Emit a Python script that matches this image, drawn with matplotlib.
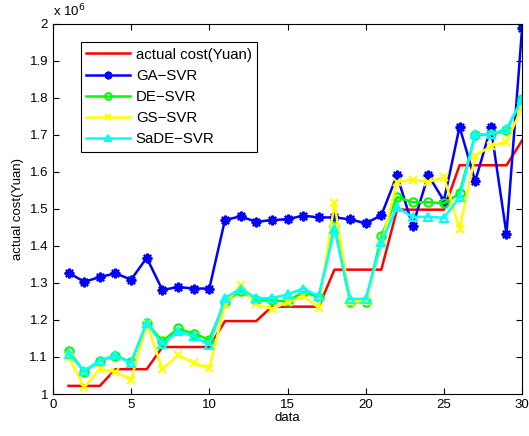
import matplotlib.pyplot as plt
from matplotlib.ticker import FuncFormatter

plt.rcParams['font.family'] = ['Liberation Sans', 'DejaVu Sans']

# sample index 1..30, costs in units of 1e6 Yuan
x = list(range(1, 31))

actual = [1.022, 1.022, 1.022, 1.067, 1.067, 1.067, 1.127, 1.127, 1.127, 1.127,
          1.197, 1.197, 1.197, 1.236, 1.236, 1.236, 1.236, 1.336, 1.336, 1.336,
          1.336, 1.498, 1.498, 1.498, 1.498, 1.618, 1.618, 1.618, 1.618, 1.685]

ga_svr = [1.328, 1.303, 1.316, 1.326, 1.309, 1.368, 1.281, 1.289, 1.285, 1.285,
          1.470, 1.480, 1.465, 1.470, 1.472, 1.482, 1.477, 1.477, 1.472, 1.461,
          1.483, 1.591, 1.454, 1.591, 1.522, 1.722, 1.575, 1.720, 1.432, 1.990]

de_svr = [1.117, 1.060, 1.090, 1.104, 1.086, 1.192, 1.143, 1.177, 1.163, 1.147,
          1.248, 1.279, 1.253, 1.253, 1.250, 1.276, 1.262, 1.455, 1.248, 1.248,
          1.426, 1.532, 1.518, 1.518, 1.515, 1.542, 1.700, 1.702, 1.712, 1.798]

gs_svr = [1.100, 1.018, 1.067, 1.060, 1.038, 1.190, 1.067, 1.105, 1.084, 1.069,
          1.242, 1.294, 1.242, 1.230, 1.248, 1.264, 1.233, 1.515, 1.248, 1.252,
          1.405, 1.573, 1.579, 1.573, 1.586, 1.446, 1.644, 1.669, 1.682, 1.774]

sade_svr = [1.109, 1.063, 1.090, 1.105, 1.083, 1.192, 1.134, 1.169, 1.156, 1.132,
            1.259, 1.285, 1.259, 1.259, 1.269, 1.285, 1.264, 1.446, 1.257, 1.257,
            1.411, 1.504, 1.478, 1.479, 1.476, 1.531, 1.702, 1.702, 1.716, 1.797]

fig = plt.figure(figsize=(5.29, 4.36), dpi=100)
ax = fig.add_axes([0.1, 0.0963, 0.887, 0.849])

lw = 1.8
ax.plot(x, actual, color='r', lw=lw, label='actual cost(Yuan)')
ax.plot(x, ga_svr, color='b', lw=lw, marker=(8, 2, 0), ms=7, mew=1.6,
        label='GA\u2212SVR')
ax.plot(x, de_svr, color=(0, 1, 0), lw=lw, marker='o', ms=6, mfc='none', mew=1.5,
        label='DE\u2212SVR')
ax.plot(x, gs_svr, color=(1, 1, 0), lw=lw, marker='x', ms=6, mew=1.5,
        label='GS\u2212SVR')
ax.plot(x, sade_svr, color=(0, 1, 1), lw=lw, marker='^', ms=6, mfc='none', mew=1.5,
        label='SaDE\u2212SVR')

ax.set_xlim(0, 30)
ax.set_ylim(1, 2)
ax.set_xticks(range(0, 31, 5))
ax.set_yticks([1 + i / 10 for i in range(11)])
ax.yaxis.set_major_formatter(FuncFormatter(lambda v, p: f'{v:g}'))
ax.tick_params(direction='in', top=True, right=True, labelsize=9.5, length=4)
for s in ax.spines.values():
    s.set_linewidth(0.8)

ax.set_xlabel('data', fontsize=9.5, labelpad=1)
ax.set_ylabel('actual cost(Yuan)', fontsize=9.5)
ax.text(0, 1.012, 'x 10$^6$', transform=ax.transAxes, fontsize=9.5,
        ha='left', va='bottom')

leg = ax.legend(loc='upper left', bbox_to_anchor=(0.06, 0.95), fontsize=10.8,
                fancybox=False, framealpha=1, edgecolor='k', handlelength=2.9,
                handletextpad=0.4, borderpad=0.35, labelspacing=0.48,
                markerscale=0.8, borderaxespad=0)
leg.get_frame().set_linewidth(0.8)

fig.savefig('out.png', dpi=100)
